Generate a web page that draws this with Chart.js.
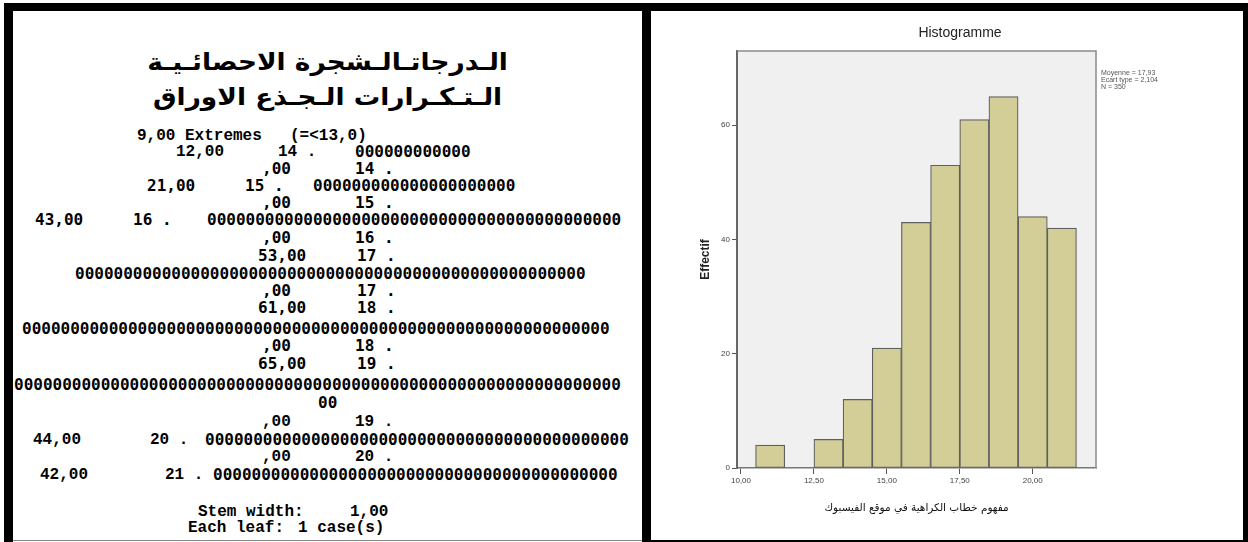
<!DOCTYPE html>
<html>
<head>
<meta charset="utf-8">
<script src="https://cdn.jsdelivr.net/npm/chart.js@4.4.1/dist/chart.umd.min.js"></script>
<style>
  html, body { margin: 0; padding: 0; background: #fff; }
  body { width: 1248px; height: 542px; position: relative; overflow: hidden; }
  .blk { position: absolute; background: #000; }
  .t { position: absolute; white-space: pre; font: bold 16px "Liberation Mono", monospace; line-height: 18px; color: #000; }
  .z { font-family: "DejaVu Sans Mono", monospace; }
  #ttl { position: absolute; left: 13px; width: 629px; top: 45px; text-align: center; font: bold 24px "DejaVu Sans", sans-serif;
         line-height: 35px; direction: rtl; color: #000; transform: scaleX(1.1); transform-origin: 314px 0; }
  #wrap { position: absolute; left: 651px; top: 11px; width: 592px; height: 529px; }
</style>
</head>
<body>
<div class="blk" style="left:4px;top:3px;width:1244px;height:8px"></div>
<div class="blk" style="left:4px;top:3px;width:9px;height:539px"></div>
<div class="blk" style="left:642px;top:3px;width:9px;height:539px"></div>
<div class="blk" style="left:1243px;top:3px;width:5px;height:539px"></div>
<div class="blk" style="left:13px;top:540px;width:629px;height:1px;background:#888"></div>
<div class="blk" style="left:651px;top:540px;width:592px;height:2px"></div>

<div id="ttl"></div>
<div id="stem"></div>
<div id="wrap"><canvas id="hist" width="592" height="529"></canvas></div>

<script>
// stem and leaf (left)
var titleLines = ['الـدرجاتـالـشجرة الاحصائـيـة', 'الـتـكـرارات الـجـذع الاوراق'];
var stems = ['14', '15', '16', '17', '18', '19', '20', '21'];
var stemFreq = [12, 21, 43, 53, 61, 65, 44, 42];
var extremes = '9,00';
var extremeLimit = '(=<13,0)';
var stemWidth = '1,00';
var leafSize = '1 case(s)';

// histogram (right)
var binCenters = [11, 13, 14, 15, 16, 17, 18, 19, 20, 21];
var binCounts = [4, 5, 12, 21, 43, 53, 61, 65, 44, 42];
var xTicks = [10, 12.5, 15, 17.5, 20];
var xTickLabels = ['10,00', '12,50', '15,00', '17,50', '20,00'];
var yTicks = [0, 20, 40, 60];
var statLines = ['Moyenne = 17,93', 'Ecart type = 2,104', 'N = 350'];
var xTitle = 'مفهوم خطاب الكراهية في موقع الفيسبوك';

document.getElementById('ttl').innerHTML = titleLines.join('<br>');

function fmt(n) { return n + ',00'; }
function leaves(n) { return '0'.repeat(n); }

// each row: top, then [text, left, zerofont?]
var rows = [
  [127, [extremes + ' Extremes', 137], [extremeLimit, 290]],
  [143, [fmt(stemFreq[0]), 176], [stems[0] + ' .', 278], [leaves(stemFreq[0]), 355, 1]],
  [160, [',00', 262, 1], [stems[0] + ' .', 355, 1]],
  [177, [fmt(stemFreq[1]), 147, 1], [stems[1] + ' .', 245, 1], [leaves(stemFreq[1]), 313, 1]],
  [194, [',00', 262, 1], [stems[1] + ' .', 355, 1]],
  [211, [fmt(stemFreq[2]), 35, 1], [stems[2] + ' .', 133, 1], [leaves(stemFreq[2]), 207, 1]],
  [229, [',00', 262, 1], [stems[2] + ' .', 355, 1]],
  [247, [fmt(stemFreq[3]), 258, 1], [stems[3] + ' .', 357, 1]],
  [265, [leaves(stemFreq[3]), 75, 1]],
  [282, [',00', 262, 1], [stems[3] + ' .', 357, 1]],
  [299, [fmt(stemFreq[4]), 258, 1], [stems[4] + ' .', 357, 1]],
  [320, [leaves(stemFreq[4]), 22, 1]],
  [337, [',00', 262, 1], [stems[4] + ' .', 355, 1]],
  [355, [fmt(stemFreq[5]), 258, 1], [stems[5] + ' .', 357, 1]],
  [376, [leaves(stemFreq[5]).slice(0, 63), 14, 1]],
  [394, [leaves(stemFreq[5]).slice(63), 318, 1]],
  [413, [',00', 262], [stems[5] + ' .', 355]],
  [431, [fmt(stemFreq[6]), 33], [stems[6] + ' .', 150], [leaves(stemFreq[6]), 205, 1]],
  [448, [',00', 262], [stems[6] + ' .', 355]],
  [466, [fmt(stemFreq[7]), 40], [stems[7] + ' .', 165], [leaves(stemFreq[7]), 213, 1]],
  [503, ['Stem width:', 198], [stemWidth, 350]],
  [519, ['Each leaf:', 188], [leafSize, 298]]
];
var html = '';
rows.forEach(function(r) {
  for (var i = 1; i < r.length; i++) {
    var s = r[i];
    html += '<div class="t' + (s[2] ? ' z' : '') + '" style="left:' + s[1] + 'px;top:' + r[0] + 'px">' + s[0] + '</div>';
  }
});
document.getElementById('stem').innerHTML = html;

var framePlugin = {
  id: 'frame',
  beforeDraw: function(chart) {
    var a = chart.chartArea, c = chart.ctx;
    c.save();
    c.fillStyle = '#f0f0f0';
    c.fillRect(a.left, a.top, a.right - a.left, a.bottom - a.top);
    c.restore();
  },
  afterDraw: function(chart) {
    var a = chart.chartArea, c = chart.ctx;
    c.save();
    c.strokeStyle = '#8a8a8a';
    c.lineWidth = 1.5;
    c.beginPath();
    c.moveTo(a.left, a.top);
    c.lineTo(a.right, a.top);
    c.lineTo(a.right, a.bottom);
    c.stroke();
    c.fillStyle = '#222';
    c.font = '14px "Liberation Sans", Arial, sans-serif';
    c.textAlign = 'center';
    c.textBaseline = 'middle';
    c.fillText('Histogramme', 309, 22);
    c.fillStyle = '#555';
    c.font = '7px "Liberation Sans", Arial, sans-serif';
    c.textAlign = 'left';
    statLines.forEach(function(s, i) {
      c.fillText(s, a.right + 5, a.top + 22 + i * 7);
    });
    c.restore();
  }
};

new Chart(document.getElementById('hist').getContext('2d'), {
  type: 'bar',
  data: {
    datasets: [{
      data: binCenters.map(function(c, i) { return { x: c, y: binCounts[i] }; }),
      backgroundColor: '#d3ce97',
      borderColor: '#5f5f5f',
      borderWidth: 1.2,
      borderSkipped: false,
      barPercentage: 1,
      categoryPercentage: 1
    }]
  },
  options: {
    responsive: false,
    animation: false,
    devicePixelRatio: 1,
    layout: { padding: { left: 0, right: 147, top: 40, bottom: 0 } },
    plugins: {
      legend: { display: false },
      tooltip: { enabled: false },
      title: { display: false }
    },
    scales: {
      x: {
        type: 'linear',
        offset: false,
        min: 9.863,
        max: 22.17,
        afterBuildTicks: function(s) { s.ticks = xTicks.map(function(v) { return { value: v }; }); },
        afterFit: function(s) { s.height = 72; },
        ticks: {
          autoSkip: false, maxRotation: 0, padding: 2, color: '#444',
          font: { family: 'Liberation Sans', size: 8 },
          callback: function(v) { return xTickLabels[xTicks.indexOf(v)]; }
        },
        grid: { drawOnChartArea: false, offset: false, tickLength: 6, color: '#555' },
        border: { color: '#777', width: 1.5 },
        title: {
          display: true, text: xTitle, color: '#111',
          font: { family: 'DejaVu Sans', size: 10.5 },
          padding: { top: 4, bottom: 25 }
        }
      },
      y: {
        min: 0,
        max: 73,
        afterBuildTicks: function(s) { s.ticks = yTicks.map(function(v) { return { value: v }; }); },
        afterFit: function(s) { s.width = 86; },
        ticks: {
          padding: 2, color: '#444',
          font: { family: 'Liberation Sans', size: 8 },
          callback: function(v) { return String(v); }
        },
        grid: { drawOnChartArea: false, tickLength: 5, color: '#555' },
        border: { color: '#666', width: 2 },
        title: {
          display: true, text: 'Effectif', color: '#222',
          font: { family: 'Liberation Sans', size: 12, weight: 'bold' },
          padding: { top: 47, bottom: 0 }
        }
      }
    }
  },
  plugins: [framePlugin]
});
</script>
</body>
</html>
